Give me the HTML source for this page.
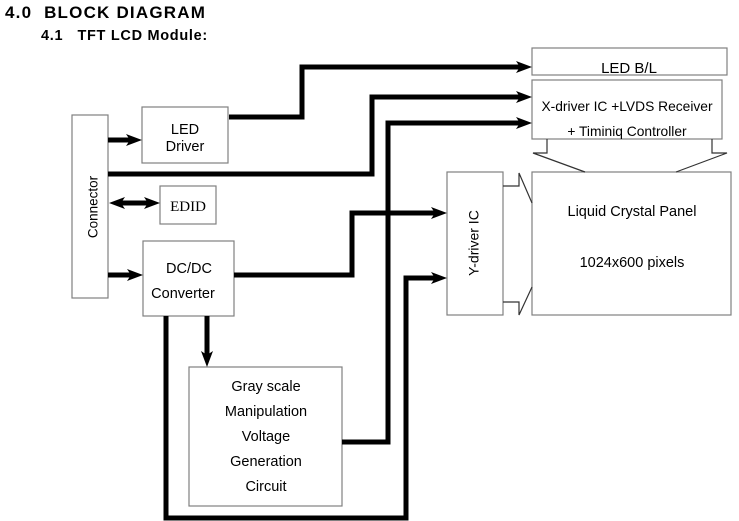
<!DOCTYPE html>
<html><head><meta charset="utf-8"><style>
html,body{margin:0;padding:0;background:#fff;}
svg{display:block;}
text{font-family:"Liberation Sans",Arial,sans-serif;fill:#000;}
</style></head><body>
<svg width="739" height="521" viewBox="0 0 739 521" xmlns="http://www.w3.org/2000/svg">
<text x="5" y="18" font-size="17" font-weight="bold" letter-spacing="1.2" xml:space="preserve">4.0  BLOCK DIAGRAM</text>
<text x="41" y="40" font-size="14.5" font-weight="bold" letter-spacing="0.7" xml:space="preserve">4.1   TFT LCD Module:</text>

<g fill="none" stroke="#808080" stroke-width="1.2">
<rect x="72" y="115" width="36" height="183"/>
<rect x="142" y="107" width="86" height="56"/>
<rect x="160" y="186" width="56" height="38"/>
<rect x="143" y="241" width="91" height="75"/>
<rect x="189" y="367" width="153" height="139"/>
<rect x="532" y="48" width="195" height="27"/>
<rect x="532" y="80" width="190" height="59"/>
<rect x="447" y="172" width="56" height="143"/>
<rect x="532" y="172" width="199" height="143"/>
</g>
<g fill="none" stroke="#333" stroke-width="1.2">
<polyline points="547,139 547,153 533,153 585,172"/>
<polyline points="712,139 712,153 727,153 676,172"/>
<polyline points="503,186 519,186 519,173 532,203"/>
<polyline points="503,302 519,302 519,315 532,287"/>
</g>

<g fill="none" stroke="#000" stroke-width="5" stroke-linejoin="miter">
<polyline points="229,117 302,117 302,67 520,67"/>
<polyline points="108,174 372,174 372,97 520,97"/>
<polyline points="342,442 388,442 388,123 520,123"/>
<polyline points="234,275 352,275 352,213 435,213"/>
<polyline points="166,316 166,518 406,518 406,278 435,278"/>
<line x1="108" y1="140" x2="130" y2="140"/>
<line x1="108" y1="275" x2="131" y2="275"/>
<line x1="207" y1="316" x2="207" y2="355"/>
<line x1="120" y1="203" x2="150" y2="203"/>
</g>
<g fill="#000">
<polygon points="532,67 516,61 520,67 516,73"/>
<polygon points="532,97 516,91 520,97 516,103"/>
<polygon points="532,123 516,117 520,123 516,129"/>
<polygon points="447,213 431,207 435,213 431,219"/>
<polygon points="447,278 431,272 435,278 431,284"/>
<polygon points="142,140 126,134 130,140 126,146"/>
<polygon points="143,275 127,269 131,275 127,281"/>
<polygon points="207,367 201,351 207,355 213,351"/>
<polygon points="160,203 144,197 148,203 144,209"/>
<polygon points="109,203 125,197 121,203 125,209"/>
</g>

<text x="94" y="207" font-size="13.5" text-anchor="middle" transform="rotate(-90 94 207)" dominant-baseline="middle">Connector</text>
<text x="185" y="134" font-size="14.5" text-anchor="middle">LED</text>
<text x="185" y="151" font-size="14.5" text-anchor="middle">Driver</text>
<text x="188" y="211" font-size="15" text-anchor="middle" style="font-family:'Liberation Serif',serif">EDID</text>
<text x="189" y="273" font-size="14.5" text-anchor="middle">DC/DC</text>
<text x="183" y="298" font-size="14.5" text-anchor="middle">Converter</text>
<g font-size="14.5" text-anchor="middle">
<text x="266" y="391">Gray scale</text>
<text x="266" y="416">Manipulation</text>
<text x="266" y="441">Voltage</text>
<text x="266" y="466">Generation</text>
<text x="266" y="491">Circuit</text>
</g>
<text x="629" y="73" font-size="15" text-anchor="middle">LED B/L</text>
<text x="627" y="111" font-size="13.8" text-anchor="middle">X-driver IC +LVDS Receiver</text>
<text x="627" y="136" font-size="13.8" text-anchor="middle">+ Timiniq Controller</text>
<text x="475" y="243" font-size="14" text-anchor="middle" transform="rotate(-90 475 243)" dominant-baseline="middle">Y-driver IC</text>
<text x="632" y="216" font-size="14.5" text-anchor="middle">Liquid Crystal Panel</text>
<text x="632" y="267" font-size="14.5" text-anchor="middle">1024x600 pixels</text>
</svg>
</body></html>
